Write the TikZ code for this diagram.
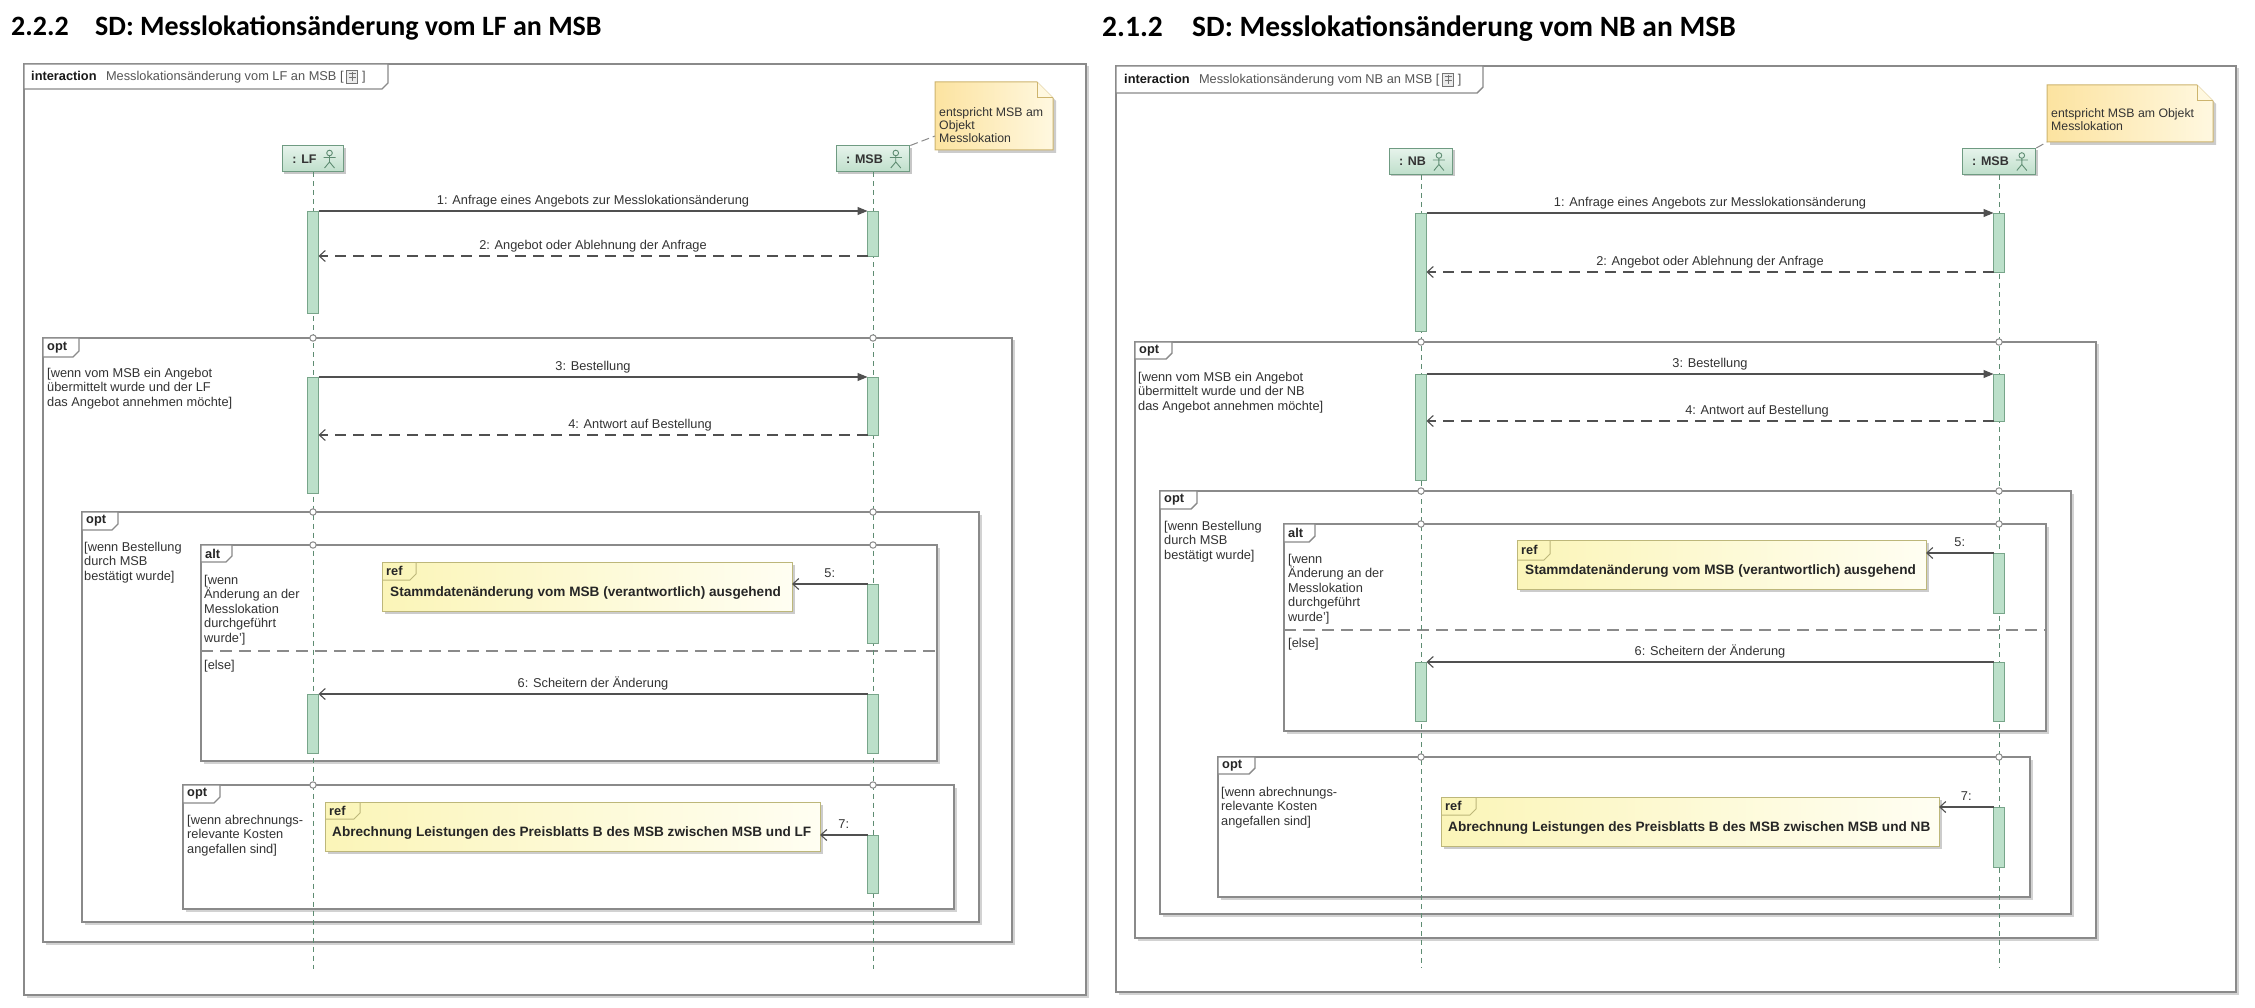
\documentclass[tikz,border=0pt]{standalone}
\usepackage{fontspec}
\setmainfont{Liberation Sans}
\newfontfamily\titlefont{Carlito}
\usetikzlibrary{arrows.meta,shadows}

\definecolor{framegray}{HTML}{8A8A8A}
\definecolor{shadowgray}{HTML}{D2D2D2}
\definecolor{lifegreen}{HTML}{5E8C72}
\definecolor{headtop}{HTML}{E6F3EB}
\definecolor{headbot}{HTML}{BFDFCB}
\definecolor{headborder}{HTML}{6F9B82}
\definecolor{barfill}{HTML}{BCE0CA}
\definecolor{barborder}{HTML}{78A58A}
\definecolor{msggray}{HTML}{505050}
\definecolor{txtgray}{HTML}{333333}
\definecolor{txtmid}{HTML}{555555}
\definecolor{refA}{HTML}{FBF5B8}
\definecolor{refB}{HTML}{FFFEF2}
\definecolor{refborder}{HTML}{BDB77A}
\definecolor{noteA}{HTML}{FCE3A0}
\definecolor{noteB}{HTML}{FFF8E0}
\definecolor{noteborder}{HTML}{CDB46E}

\newcommand\fs{\fontsize{12.8}{14.4}\selectfont}
\newcommand\fsnote{\fontsize{12.3}{13.3}\selectfont}
\newcommand\fsref{\fontsize{13.6}{15}\selectfont\bfseries}
\newcommand\fstitle{\titlefont\bfseries\fontsize{28}{32}\selectfont}
\newcommand\fstitleR{\titlefont\bfseries\fontsize{29.5}{33}\selectfont}

\tikzset{
  frameline/.style={draw=framegray, line width=1.4pt},
  fragnode/.style={draw=framegray, line width=1.4pt, fill=white, inner sep=0pt, outer sep=0pt},
  tablabel/.style={font=\fs\bfseries, text=black!85, inner sep=0pt, anchor=west},
  guard/.style={font=\fs, text=txtgray, align=left, inner sep=0pt, anchor=north west},
  lifeline/.style={draw=lifegreen, line width=1pt, dash pattern=on 5pt off 4pt},
  headbox/.style={draw=headborder, line width=1pt, top color=headtop, bottom color=headbot,
    font=\fontsize{12.5}{14}\selectfont\bfseries, text=black!80, inner xsep=10pt, inner ysep=0pt,
    minimum height=26pt, drop shadow={shadow xshift=2pt, shadow yshift=-2pt, fill=black!22, opacity=1}},
  actorstyle/.style={draw=lifegreen, line width=0.9pt},
  actbar/.style={draw=barborder, fill=barfill, line width=0.9pt, minimum width=11pt, inner sep=0pt, outer sep=0pt},
  gatestyle/.style={draw=framegray, fill=white, line width=1pt},
  msg/.style={draw=msggray, line width=1.1pt},
  syncmsg/.style={msg, -{Triangle[length=10pt,width=8pt]}},
  replymsg/.style={msg, dash pattern=on 11pt off 7pt, -{Straight Barb[length=6pt,width=11pt]}},
  asyncmsg/.style={msg, -{Straight Barb[length=6pt,width=11pt]}},
  msglabel/.style={font=\fs, text=txtgray, inner sep=0pt, anchor=base, yshift=6.5pt},
  refbox/.style={draw=refborder, line width=1pt, left color=refA, right color=refB, inner sep=0pt, outer sep=0pt,
    anchor=north west, drop shadow={shadow xshift=3pt, shadow yshift=-3pt, fill=black!20, opacity=1}},
  refline/.style={draw=refborder, line width=1pt},
  reftext/.style={font=\fsref, text=black!85, inner sep=0pt, anchor=west},
  notebox/.style={draw=noteborder, line width=1pt, left color=noteA, right color=noteB},
  notetext/.style={font=\fsnote, text=txtgray, align=left, inner sep=0pt, anchor=north west},
  noteline/.style={draw=framegray, line width=1pt, dash pattern=on 8pt off 4pt},
  sepline/.style={draw=framegray, line width=1.4pt, dash pattern=on 12pt off 7pt},
  titlestyle/.style={anchor=base west, inner sep=0pt, font=\fstitle, text=black},
  titlestyleR/.style={anchor=base west, inner sep=0pt, font=\fstitleR, text=black},
  itabb/.style={anchor=base west, inner sep=0pt, font=\fs\bfseries, text=black!90},
  itabr/.style={anchor=base west, inner sep=0pt, font=\fs, text=txtmid},
}

% frame with shadow: name, x1, y1, x2, y2
\newcommand\fragbox[5]{%
  \fill[shadowgray] (#2+2.5,#3+2.5) rectangle (#4+2.5,#5+2.5);
  \node[fragnode, anchor=north west, minimum width=#4-#2, minimum height=#5-#3] (#1) at (#2,#3) {};
}
% tab: frame name, width, height, label, label node name
\newcommand\fragtab[5]{%
  \draw[frameline, fill=white] (#1.north west) -- ++(#2,0) -- ++(0,#3-6) -- ++(-6,6) -- ++(6-#2,0) -- cycle;
  \node[tablabel] (#5) at ([shift={(4,#3/2)}]#1.north west) {#4};
}
% ref tab: box name, width, height, label node name
\newcommand\reftab[4]{%
  \draw[refline] ([shift={(#2,0)}]#1.north west) -- ++(0,#3-6) -- ++(-6,6) -- ++(6-#2,0);
  \node[tablabel] (#4) at ([shift={(4,#3/2)}]#1.north west) {ref};
}
% actor icon inside head node
\newcommand\actoricon[1]{%
  \begin{scope}[shift={([xshift=-14.5pt]#1.east)}]
    \draw[actorstyle] (0,-6) circle (2.8) (-6,-1.5) -- (6,-1.5) (0,-3.2) -- (0,3) (-5,9) -- (0,3) -- (5,9);
  \end{scope}}
% small diagram icon in interaction tab
\newcommand\tabicon[1]{%
  \begin{scope}[shift={(#1)}]
    \draw[black!55, fill=black!8, line width=0.8pt] (0,2) rectangle (11,-11);
    \draw[black!55, line width=0.7pt] (2,-7.5) -- (9,-7.5) (2,-3.5) -- (9,-3.5) (5.5,-9) -- (5.5,0);
  \end{scope}}
% note shape: x1 y1 x2 y2
\newcommand\notebg[4]{%
  \fill[black!20] (#1+3,#2+3) -- (#3-16+3,#2+3) -- (#3+3,#2+16+3) -- (#3+3,#4+3) -- (#1+3,#4+3) -- cycle;
  \shadedraw[notebox] (#1,#2) -- (#3-16,#2) -- (#3,#2+16) -- (#3,#4) -- (#1,#4) -- cycle;
  \fill[noteB] (#3-16,#2) -- (#3-16,#2+16) -- (#3,#2+16) -- cycle;
  \draw[noteborder, line width=1pt] (#3-16,#2) -- (#3-16,#2+16) -- (#3,#2+16);
}
\newcommand\iconspace{\kern17pt\rule{0pt}{1pt}}

\begin{document}
\begin{tikzpicture}[x=1pt,y=-1pt]
\useasboundingbox (0,0) rectangle (2255,1008);
\fill[white] (0,0) rectangle (2255,1008);

%%%%%%%%%%%%%%%%%%%% LEFT DIAGRAM %%%%%%%%%%%%%%%%%%%%
\node[titlestyle] (tnumL) at (11,36) {2.2.2};
\node[titlestyle] (ttxtL) at (95,36) {SD: Messlokationsänderung vom LF an MSB};

\fragbox{frameL}{24}{64}{1086}{995}
\draw[frameline, fill=white] (frameL.north west) -- ++(364,0) -- ++(0,19) -- ++(-6,6) -- ++(-358,0) -- cycle;
\node[itabb] (itL1) at (31,81) {interaction};
\node[itabr] (itL2) at ([xshift=9pt]itL1.base east) {Messlokationsänderung vom LF an MSB [};
\coordinate (icL) at ([xshift=3pt]itL2.base east);
\tabicon{icL}
\node[itabr] (itL3) at ([xshift=18pt]itL2.base east) {]};

\fragbox{opt1L}{43}{338}{1012}{942}
\fragtab{opt1L}{36}{19}{opt}{opt1Lt}
\fragbox{opt2L}{82}{512}{979}{922}
\fragtab{opt2L}{36}{18}{opt}{opt2Lt}
\fragbox{altL}{201}{545}{937}{761}
\fragtab{altL}{31}{17}{alt}{altLt}
\fragbox{opt3L}{183}{785}{954}{909}
\fragtab{opt3L}{37}{18}{opt}{opt3Lt}
\draw[sepline] (altL.west |- 0,651) -- (altL.east |- 0,651);

\node[guard] (g1L) at (47,368) {[wenn vom MSB ein Angebot\\übermittelt wurde und der LF\\das Angebot annehmen möchte]};
\node[guard] (g2L) at (84,542) {[wenn Bestellung\\durch MSB\\bestätigt wurde]};
\node[guard] (g3L) at (204,575) {[wenn\\Änderung an der\\Messlokation\\durchgeführt\\wurde']};
\node[guard] (g4L) at (204,660) {[else]};
\node[guard] (g5L) at (187,815) {[wenn abrechnungs-\\relevante Kosten\\angefallen sind]};

\notebg{935}{82}{1053}{150}
\node[notetext] (noteL) at (939,107) {entspricht MSB am\\Objekt\\Messlokation};

\node[headbox] (LFh) at (313,159) {: LF\iconspace};
\actoricon{LFh}
\node[headbox] (MSBhL) at (873,159) {: MSB\iconspace};
\actoricon{MSBhL}
\coordinate (noteLc) at (935,136);
\draw[noteline] (MSBhL.north east) -- (noteLc);

\coordinate (LFendL) at (313,969);
\coordinate (MSBendL) at (873,969);
\draw[lifeline] (LFh.south) -- (LFendL);
\draw[lifeline] (MSBhL.south) -- (MSBendL);
\foreach \yy in {338,512,545,785} {\draw[gatestyle] (313,\yy) circle (3.2); \draw[gatestyle] (873,\yy) circle (3.2);}

\node[actbar, minimum height=102pt] (LFb1L) at (313,262) {};
\node[actbar, minimum height=45pt] (MSBb1L) at (873,233.5) {};
\node[actbar, minimum height=116pt] (LFb2L) at (313,435) {};
\node[actbar, minimum height=58pt] (MSBb2L) at (873,406) {};
\node[actbar, minimum height=59pt] (MSBb3L) at (873,613.5) {};
\node[actbar, minimum height=59pt] (LFb3L) at (313,723.5) {};
\node[actbar, minimum height=59pt] (MSBb4L) at (873,723.5) {};
\node[actbar, minimum height=58pt] (MSBb5L) at (873,864) {};

\node[refbox, minimum width=410pt, minimum height=49pt] (ref1L) at (382,562) {};
\reftab{ref1L}{34}{18}{ref1Lt}
\node[reftext] (ref1Lx) at ([shift={(8,31)}]ref1L.north west) {Stammdatenänderung vom MSB (verantwortlich) ausgehend};
\node[refbox, minimum width=495pt, minimum height=49pt] (ref2L) at (325,802) {};
\reftab{ref2L}{35}{17}{ref2Lt}
\node[reftext] (ref2Lx) at ([shift={(7,31)}]ref2L.north west) {Abrechnung Leistungen des Preisblatts B des MSB zwischen MSB und LF};

\draw[syncmsg] (LFb1L.east |- 0,211) -- node[msglabel] {1: Anfrage eines Angebots zur Messlokationsänderung} (MSBb1L.west |- 0,211);
\draw[replymsg] (MSBb1L.west |- 0,256) -- node[msglabel] {2: Angebot oder Ablehnung der Anfrage} (LFb1L.east |- 0,256);
\draw[syncmsg] (LFb2L.east |- 0,377) -- node[msglabel] {3: Bestellung} (MSBb2L.west |- 0,377);
\draw[replymsg] (MSBb2L.west |- 0,435) -- node[msglabel, xshift=47pt] {4: Antwort auf Bestellung} (LFb2L.east |- 0,435);
\draw[asyncmsg] (MSBb3L.west |- 0,584) -- node[msglabel] {5:} (ref1L.east |- 0,584);
\draw[asyncmsg] (MSBb4L.west |- 0,694) -- node[msglabel] {6: Scheitern der Änderung} (LFb3L.east |- 0,694);
\draw[asyncmsg] (MSBb5L.west |- 0,835) -- node[msglabel] {7:} (ref2L.east |- 0,835);

%%%%%%%%%%%%%%%%%%%% RIGHT DIAGRAM %%%%%%%%%%%%%%%%%%%%
\node[titlestyleR] (tnumR) at (1102,37) {2.1.2};
\node[titlestyleR] (ttxtR) at (1192,37) {SD: Messlokationsänderung vom NB an MSB};

\fragbox{frameR}{1116}{66}{2236}{992}
\draw[frameline, fill=white] (frameR.north west) -- ++(367,0) -- ++(0,21) -- ++(-6,6) -- ++(-361,0) -- cycle;
\node[itabb] (itR1) at (1124,84) {interaction};
\node[itabr] (itR2) at ([xshift=9pt]itR1.base east) {Messlokationsänderung vom NB an MSB [};
\coordinate (icR) at ([xshift=3pt]itR2.base east);
\tabicon{icR}
\node[itabr] (itR3) at ([xshift=18pt]itR2.base east) {]};

\fragbox{opt1R}{1135}{342}{2096}{938}
\fragtab{opt1R}{37}{17}{opt}{opt1Rt}
\fragbox{opt2R}{1160}{491}{2071}{914}
\fragtab{opt2R}{37}{18}{opt}{opt2Rt}
\fragbox{altR}{1284}{524}{2046}{731}
\fragtab{altR}{31}{18}{alt}{altRt}
\fragbox{opt3R}{1218}{757}{2030}{897}
\fragtab{opt3R}{37}{17}{opt}{opt3Rt}
\draw[sepline] (altR.west |- 0,630) -- (altR.east |- 0,630);

\node[guard] (g1R) at (1138,372) {[wenn vom MSB ein Angebot\\übermittelt wurde und der NB\\das Angebot annehmen möchte]};
\node[guard] (g2R) at (1164,521) {[wenn Bestellung\\durch MSB\\bestätigt wurde]};
\node[guard] (g3R) at (1288,554) {[wenn\\Änderung an der\\Messlokation\\durchgeführt\\wurde']};
\node[guard] (g4R) at (1288,638) {[else]};
\node[guard] (g5R) at (1221,787) {[wenn abrechnungs-\\relevante Kosten\\angefallen sind]};

\notebg{2047}{85}{2213}{142}
\node[notetext] (noteR) at (2051,108) {entspricht MSB am Objekt\\Messlokation};

\node[headbox] (NBh) at (1421,161.5) {: NB\iconspace};
\actoricon{NBh}
\node[headbox] (MSBhR) at (1999,161.5) {: MSB\iconspace};
\actoricon{MSBhR}
\coordinate (noteRc) at (2047,142);
\draw[noteline] (MSBhR.north east) -- (noteRc);

\coordinate (NBendR) at (1421,968);
\coordinate (MSBendR) at (1999,968);
\draw[lifeline] (NBh.south) -- (NBendR);
\draw[lifeline] (MSBhR.south) -- (MSBendR);
\foreach \yy in {342,491,524,757} {\draw[gatestyle] (1421,\yy) circle (3.2); \draw[gatestyle] (1999,\yy) circle (3.2);}

\node[actbar, minimum height=118pt] (NBb1R) at (1421,272) {};
\node[actbar, minimum height=59pt] (MSBb1R) at (1999,242.5) {};
\node[actbar, minimum height=106pt] (NBb2R) at (1421,427) {};
\node[actbar, minimum height=47pt] (MSBb2R) at (1999,397.5) {};
\node[actbar, minimum height=60pt] (MSBb3R) at (1999,583) {};
\node[actbar, minimum height=59pt] (NBb3R) at (1421,691.5) {};
\node[actbar, minimum height=59pt] (MSBb4R) at (1999,691.5) {};
\node[actbar, minimum height=60pt] (MSBb5R) at (1999,837) {};

\node[refbox, minimum width=409pt, minimum height=49pt] (ref1R) at (1517,540) {};
\reftab{ref1R}{33}{20}{ref1Rt}
\node[reftext] (ref1Rx) at ([shift={(8,31)}]ref1R.north west) {Stammdatenänderung vom MSB (verantwortlich) ausgehend};
\node[refbox, minimum width=498pt, minimum height=49pt] (ref2R) at (1441,797) {};
\reftab{ref2R}{35}{18}{ref2Rt}
\node[reftext] (ref2Rx) at ([shift={(7,31)}]ref2R.north west) {Abrechnung Leistungen des Preisblatts B des MSB zwischen MSB und NB};

\draw[syncmsg] (NBb1R.east |- 0,213) -- node[msglabel] {1: Anfrage eines Angebots zur Messlokationsänderung} (MSBb1R.west |- 0,213);
\draw[replymsg] (MSBb1R.west |- 0,272) -- node[msglabel] {2: Angebot oder Ablehnung der Anfrage} (NBb1R.east |- 0,272);
\draw[syncmsg] (NBb2R.east |- 0,374) -- node[msglabel] {3: Bestellung} (MSBb2R.west |- 0,374);
\draw[replymsg] (MSBb2R.west |- 0,421) -- node[msglabel, xshift=47pt] {4: Antwort auf Bestellung} (NBb2R.east |- 0,421);
\draw[asyncmsg] (MSBb3R.west |- 0,553) -- node[msglabel] {5:} (ref1R.east |- 0,553);
\draw[asyncmsg] (MSBb4R.west |- 0,662) -- node[msglabel] {6: Scheitern der Änderung} (NBb3R.east |- 0,662);
\draw[asyncmsg] (MSBb5R.west |- 0,807) -- node[msglabel] {7:} (ref2R.east |- 0,807);

\end{tikzpicture}
\end{document}
